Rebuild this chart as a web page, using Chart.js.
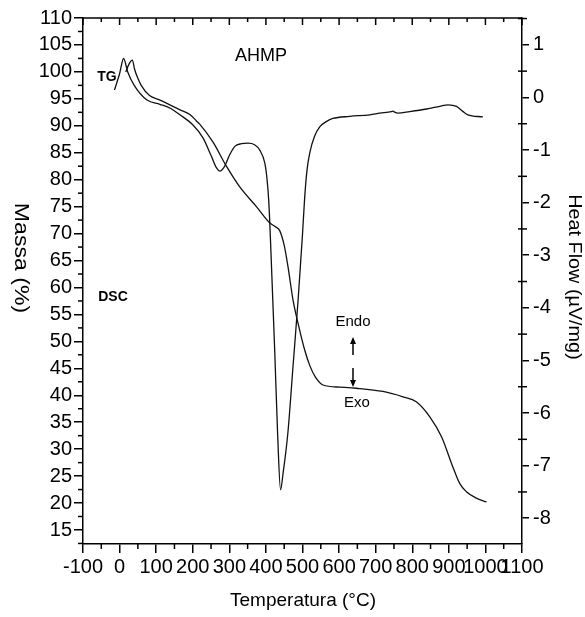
<!DOCTYPE html>
<html>
<head>
<meta charset="utf-8">
<script src="https://cdn.jsdelivr.net/npm/chart.js@4"></script>
<style>
  html, body { margin: 0; padding: 0; background: #fff; }
  canvas { display: block; }
</style>
</head>
<body>
<canvas id="tgChart" width="585" height="617"></canvas>
<script>
// TG curve (mass %, left axis)
const tgTemp = [17, 26, 35, 41, 50, 59, 82, 109, 128, 164, 192, 210, 219, 255, 292, 328, 374, 410, 425, 438, 450, 460, 474, 488, 506, 520, 535, 556, 602, 647, 720, 775, 811, 848, 880, 911, 930, 948, 975, 1003];
const tgMass = [100.0, 101.5, 102.2, 100.5, 98.8, 97.5, 95.6, 94.8, 94.2, 93.0, 92.1, 90.9, 90.3, 87.0, 82.5, 78.7, 75.0, 72.0, 71.3, 70.5, 67.8, 64.0, 57.7, 53.3, 48.4, 45.5, 43.4, 41.9, 41.5, 41.3, 40.7, 39.7, 38.8, 36.0, 32.3, 26.7, 23.6, 22.1, 20.9, 20.2];

// DSC curve (heat flow uV/mg, right axis)
const dscTemp = [-14, 0, 11, 22, 40, 75, 110, 140, 165, 200, 228, 251, 265, 274, 287, 301, 315, 333, 351, 369, 383, 397, 403, 408, 413, 424, 432, 440, 447, 460, 474, 488, 500, 506, 512, 520, 533, 547, 565, 583, 629, 684, 711, 743, 748, 752, 761, 793, 839, 875, 898, 921, 939, 952, 993];
const dscHeat = [0.14, 0.45, 0.74, 0.49, 0.23, -0.05, -0.13, -0.21, -0.33, -0.52, -0.77, -1.12, -1.34, -1.40, -1.31, -1.09, -0.93, -0.88, -0.87, -0.90, -1.00, -1.25, -1.55, -2.0, -2.8, -4.8, -6.4, -7.46, -7.14, -6.38, -5.12, -3.85, -2.6, -1.9, -1.4, -1.05, -0.74, -0.56, -0.46, -0.40, -0.36, -0.33, -0.30, -0.27, -0.26, -0.28, -0.30, -0.27, -0.22, -0.17, -0.14, -0.17, -0.27, -0.33, -0.37];

// tick labels
const tempTicks = [-100, 0, 100, 200, 300, 400, 500, 600, 700, 800, 900, 1000, 1100];
const tempMinor = [-50, 50, 150, 250, 350, 450, 550, 650, 750, 850, 950, 1050];
const massTicks = [15, 20, 25, 30, 35, 40, 45, 50, 55, 60, 65, 70, 75, 80, 85, 90, 95, 100, 105, 110];
const massMinor = [12.5, 17.5, 22.5, 27.5, 32.5, 37.5, 42.5, 47.5, 52.5, 57.5, 62.5, 67.5, 72.5, 77.5, 82.5, 87.5, 92.5, 97.5, 102.5, 107.5];
const heatTicks = [-8, -7, -6, -5, -4, -3, -2, -1, 0, 1];
const heatMinor = [-7.5, -6.5, -5.5, -4.5, -3.5, -2.5, -1.5, -0.5, 0.5, 1.5];

const FONT = "'Liberation Sans', Arial, sans-serif";

function seg(ctx, x1, y1, x2, y2) {
    ctx.beginPath();
    ctx.moveTo(x1, y1);
    ctx.lineTo(x2, y2);
    ctx.stroke();
}

function arrow(ctx, x, yFrom, yTo) {
    const dir = yTo > yFrom ? 1 : -1;
    seg(ctx, x, yFrom, x, yTo - dir * 5);
    ctx.beginPath();
    ctx.moveTo(x, yTo);
    ctx.lineTo(x - 3, yTo - dir * 7);
    ctx.lineTo(x + 3, yTo - dir * 7);
    ctx.closePath();
    ctx.fill();
}

// rotated (top to bottom) title, a bit wider like the scanned font
function sideTitle(ctx, text, x, y, size) {
    ctx.save();
    ctx.translate(x, y);
    ctx.rotate(Math.PI / 2);
    ctx.scale(1.1, 1);
    ctx.font = size + 'px ' + FONT;
    ctx.fillText(text, 0, 0);
    ctx.restore();
}

const extras = {
    id: 'extras',
    afterDraw(chart) {
        const ctx = chart.ctx;
        const a = chart.chartArea;
        const sx = chart.scales.x, sy = chart.scales.y, sy2 = chart.scales.y2;
        ctx.save();
        ctx.strokeStyle = '#000';
        ctx.fillStyle = '#000';
        ctx.lineWidth = 1.5;

        // top frame line and minor ticks
        seg(ctx, a.left, a.top, a.right, a.top);
        tempTicks.forEach(v => {
            const px = sx.getPixelForValue(v);
            seg(ctx, px, a.top, px, a.top + 7);
        });
        tempMinor.forEach(v => {
            const px = sx.getPixelForValue(v);
            seg(ctx, px, a.top, px, a.top + 4);
            seg(ctx, px, a.bottom, px, a.bottom + 5);
        });
        massMinor.forEach(v => {
            const py = sy.getPixelForValue(v);
            seg(ctx, a.left - 5, py, a.left, py);
        });
        heatMinor.forEach(v => {
            const py = sy2.getPixelForValue(v);
            if (py >= a.top) seg(ctx, a.right - 4, py, a.right + 5, py);
        });

        // axis titles
        ctx.textAlign = 'center';
        ctx.textBaseline = 'middle';
        ctx.font = '19px ' + FONT;
        ctx.fillText('Temperatura (\u00B0C)', 303, 601);
        sideTitle(ctx, 'Massa (%)', 21, 258, 21);
        sideTitle(ctx, 'Heat Flow (\u00B5V/mg)', 574, 277, 18);

        // labels inside the plot
        ctx.font = '18px ' + FONT;
        ctx.fillText('AHMP', 261, 56);
        ctx.font = 'bold 14px ' + FONT;
        ctx.fillText('TG', 107, 77);
        ctx.fillText('DSC', 113, 297);
        ctx.font = '15px ' + FONT;
        ctx.fillText('Endo', 353, 322);
        ctx.fillText('Exo', 357, 403);

        ctx.lineWidth = 1.5;
        arrow(ctx, 353, 355, 337);
        arrow(ctx, 353, 368, 387);
        ctx.restore();
    }
};

const axisGrid = { drawOnChartArea: false, drawTicks: true, color: '#000', lineWidth: 1.5 };
const axisBorder = { display: true, color: '#000', width: 1.5 };
const tickFont = { family: FONT, size: 20 };

new Chart(document.getElementById('tgChart').getContext('2d'), {
    type: 'line',
    data: {
        datasets: [{
            label: 'TG',
            data: tgTemp.map((t, i) => ({ x: t, y: tgMass[i] })),
            yAxisID: 'y',
            borderColor: '#111',
            borderWidth: 1.3,
            pointRadius: 0,
            fill: false,
            cubicInterpolationMode: 'monotone'
        }, {
            label: 'DSC',
            data: dscTemp.map((t, i) => ({ x: t, y: dscHeat[i] })),
            yAxisID: 'y2',
            borderColor: '#111',
            borderWidth: 1.3,
            pointRadius: 0,
            fill: false,
            cubicInterpolationMode: 'monotone'
        }]
    },
    options: {
        responsive: false,
        animation: false,
        devicePixelRatio: 1,
        layout: { padding: { top: 18, left: 0, right: 0, bottom: 0 } },
        plugins: {
            legend: { display: false },
            tooltip: { enabled: false }
        },
        scales: {
            x: {
                type: 'linear',
                position: 'bottom',
                min: -100,
                max: 1100,
                afterBuildTicks: s => { s.ticks = tempTicks.map(v => ({ value: v })); },
                afterFit: s => { s.height = 73; },
                grid: Object.assign({ tickLength: 9 }, axisGrid),
                border: axisBorder,
                ticks: { color: '#000', font: tickFont, padding: 2, maxRotation: 0, autoSkip: false, callback: v => String(v) }
            },
            y: {
                position: 'left',
                min: 12.4,
                max: 110,
                afterBuildTicks: s => { s.ticks = massTicks.map(v => ({ value: v })); },
                afterFit: s => { s.width = 83; },
                grid: Object.assign({ tickLength: 9 }, axisGrid),
                border: axisBorder,
                ticks: { color: '#000', font: tickFont, padding: 2, callback: v => String(v) }
            },
            y2: {
                position: 'right',
                min: -8.49,
                max: 1.51,
                afterBuildTicks: s => { s.ticks = heatTicks.map(v => ({ value: v })); },
                afterFit: s => { s.width = 63; },
                grid: Object.assign({ tickLength: 7 }, axisGrid),
                border: axisBorder,
                ticks: { color: '#000', font: tickFont, padding: 4, callback: v => String(v) }
            }
        }
    },
    plugins: [extras]
});
</script>
</body>
</html>
